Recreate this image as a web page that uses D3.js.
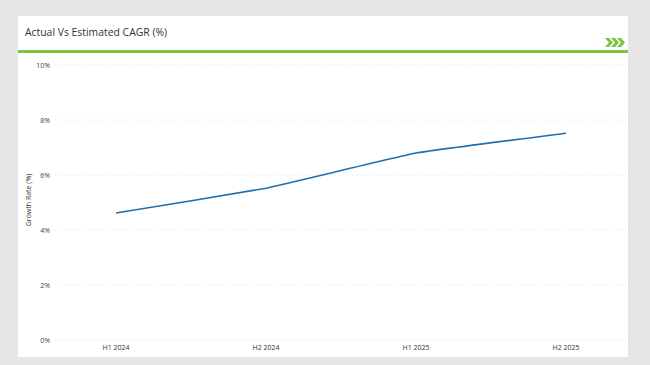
<!DOCTYPE html>
<html>
<head>
<meta charset="utf-8">
<script src="https://cdn.jsdelivr.net/npm/d3@7"></script>
<style>
  body { margin:0; background:#e6e6e6; }
  svg { display:block; font-family:"Open Sans", "Liberation Sans", sans-serif; }
</style>
</head>
<body>
<svg id="chart" width="650" height="365"></svg>
<script>
// chart data
var periods = ["H1 2024", "H2 2024", "H1 2025", "H2 2025"];
var growth = [4.62, 5.52, 6.8, 7.52];
var yTicks = [0, 2, 4, 6, 8, 10];

var svg = d3.select("#chart");

// white card
svg.append("rect").attr("x", 18).attr("y", 16).attr("width", 610).attr("height", 341).attr("fill", "#fff");

svg.append("text").attr("x", 25).attr("y", 36)
  .attr("font-size", 10.4).attr("fill", "#333")
  .text("Actual Vs Estimated CAGR (%)");

// green rule under the title
svg.append("rect").attr("x", 18).attr("y", 50).attr("width", 610).attr("height", 3).attr("fill", "#7dc242");

// >>> chevrons
var chev = svg.append("g").attr("fill", "#7dc242");
[605, 611, 617].forEach(function(cx) {
  chev.append("path").attr("d", "M" + cx + ",38 L" + (cx + 4) + ",38 L" + (cx + 8) + ",42.5 L" + (cx + 4) + ",47 L" + cx + ",47 L" + (cx + 4) + ",42.5 Z");
});

var x = d3.scalePoint().domain(periods).range([116, 566]);
var y = d3.scaleLinear().domain([0, 10]).range([340, 65]);

// dotted grid
svg.append("g").selectAll("line").data(yTicks).enter().append("line")
  .attr("x1", 55).attr("x2", 626)
  .attr("y1", function(d) { return y(d); }).attr("y2", function(d) { return y(d); })
  .attr("stroke", "#ddd").attr("stroke-width", 0.8).attr("stroke-dasharray", "1,2");

svg.append("g").selectAll("text").data(yTicks).enter().append("text")
  .attr("x", 50).attr("y", function(d) { return y(d) + 2.5; })
  .attr("text-anchor", "end").attr("font-size", 7).attr("fill", "#444")
  .text(function(d) { return d + "%"; });

svg.append("g").selectAll("text").data(periods).enter().append("text")
  .attr("x", function(d) { return x(d); }).attr("y", 350)
  .attr("text-anchor", "middle").attr("font-size", 7).attr("fill", "#333")
  .text(function(d) { return d; });

svg.append("text")
  .attr("transform", "translate(31,200) rotate(-90)")
  .attr("text-anchor", "middle").attr("font-size", 7).attr("fill", "#333")
  .text("Growth Rate (%)");

var line = d3.line()
  .x(function(d, i) { return x(periods[i]); })
  .y(function(d) { return y(d); })
  .curve(d3.curveCardinal.tension(0.75));

svg.append("path").datum(growth)
  .attr("d", line)
  .attr("fill", "none").attr("stroke", "#1f6fb0").attr("stroke-width", 1.6);
</script>
</body>
</html>
